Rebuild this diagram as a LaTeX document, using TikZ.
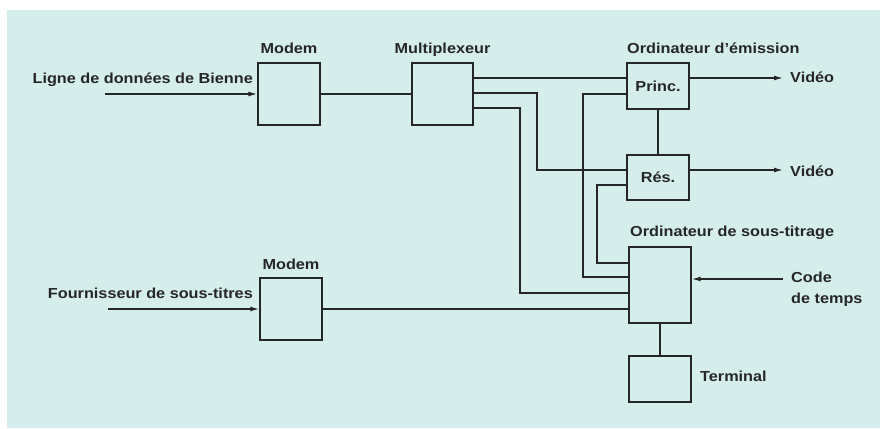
\documentclass[tikz,border=0pt]{standalone}
\usepackage{fontspec}
\setmainfont{Liberation Sans}[FakeStretch=1.12]
\usetikzlibrary{arrows.meta}
\definecolor{fond}{RGB}{213,238,236}
\definecolor{trait}{RGB}{38,38,38}
\tikzset{
	boite/.style={draw=trait, line width=1.4pt, minimum width=62pt, minimum height=62pt, inner sep=0pt, text=trait, font=\bfseries\fontsize{14.5}{17}\selectfont},
	etiq/.style={inner sep=0pt, text=trait, font=\bfseries\fontsize{14.5}{17}\selectfont},
	fil/.style={draw=trait, line width=1.4pt},
	fleche/.style={fil, -{Latex[length=9pt,width=5pt]}}
}
\begin{document}
\begin{tikzpicture}[x=1pt,y=-1pt]
				\useasboundingbox (0,0) rectangle (880,428);
				\fill[white] (0,0) rectangle (880,428);
				\fill[fond] (7,10) rectangle (880,428);

				\node[boite] (modA) at (289,94) {};
				\node[boite, minimum width=61pt] (mux) at (442.5,94) {};
				\node[boite, minimum height=46pt] (princ) at (658,86) {Princ.};
				\node[boite, minimum height=45pt] (res) at (658,177.5) {Rés.};
				\node[boite, minimum height=76pt] (sous) at (660,285) {};
				\node[boite, minimum height=46pt] (term) at (660,379) {};
				\node[boite] (modB) at (291,309) {};

				\node[etiq, anchor=base] (tModA) at (289,53) {Modem};
				\node[etiq, anchor=base] (tMux) at (442.5,53) {Multiplexeur};
				\node[etiq, anchor=base west] (tEmis) at (627,53) {Ordinateur d’émission};
				\node[etiq, anchor=base west] (tSous) at (630,236) {Ordinateur de sous-titrage};
				\node[etiq, anchor=base] (tModB) at (291,269) {Modem};
				\node[etiq, anchor=base east] (tBienne) at (253,83) {Ligne de données de Bienne};
				\node[etiq, anchor=base east] (tFourn) at (253,298) {Fournisseur de sous-titres};
				\node[etiq, anchor=base west] (tVidA) at (790,82) {Vidéo};
				\node[etiq, anchor=base west] (tVidB) at (790,176) {Vidéo};
				\node[etiq, anchor=base west, align=left] (tCode) at (791,303) {Code\\[4pt]de temps};
				\node[etiq, anchor=base west] (tTerm) at (700,381) {Terminal};

				\coordinate (inA) at (105,94);
				\coordinate (inB) at (108,309);
				\coordinate (vidA) at (783,78);
				\coordinate (vidB) at (783,170);
				\coordinate (code) at (783,279);
				\coordinate (k1) at (537,170);
				\coordinate (k2) at (520,293);
				\coordinate (k3) at (583,277);
				\coordinate (k4) at (597,263);

				\draw[fleche] (inA) -- (modA);
				\draw[fleche] (inB) -- (modB);
				\draw[fil] (modA) -- (mux);
				\draw[fil] (mux.east |- vidA) -- (princ.west |- vidA);
				\draw[fil] (mux.east |- 0,93) -| (k1) -- (res.west |- k1);
				\draw[fil] (mux.east |- 0,108) -| (k2) -- (sous.west |- k2);
				\draw[fil] (princ.west |- 0,94) -| (k3) -- (sous.west |- k3);
				\draw[fil] (res.west |- 0,185) -| (k4) -- (sous.west |- k4);
				\draw[fil] (modB) -- (modB -| sous.west);
				\draw[fil] (princ) -- (res);
				\draw[fil] (sous) -- (term);
				\draw[fleche] (princ.east |- vidA) -- (vidA);
				\draw[fleche] (res.east |- vidB) -- (vidB);
				\draw[fleche] (code) -- (sous.east |- code);
			\end{tikzpicture}
\end{document}
